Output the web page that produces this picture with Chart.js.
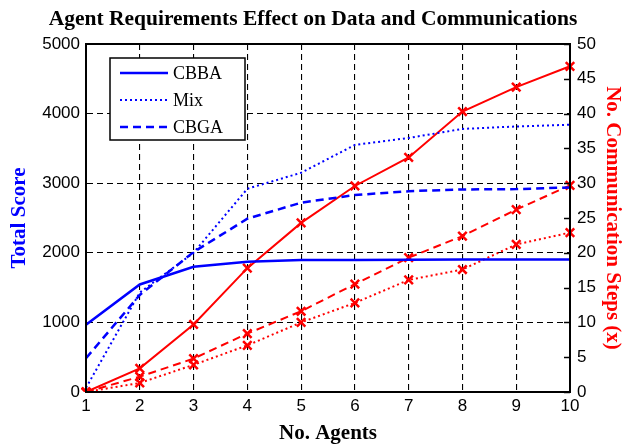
<!DOCTYPE html>
<html>
<head>
<meta charset="utf-8">
<script src="https://cdn.jsdelivr.net/npm/chart.js@4.4.0/dist/chart.umd.min.js"></script>
<style>
  html, body { margin: 0; padding: 0; background: #fff; }
  #wrap { width: 626px; height: 446px; }
</style>
</head>
<body>
<div id="wrap"><canvas id="chart" width="626" height="446"></canvas></div>
<script>
// data
const agents = ['1', '2', '3', '4', '5', '6', '7', '8', '9', '10'];
const scoreCBBA = [965, 1545, 1800, 1870, 1895, 1898, 1900, 1905, 1905, 1905];
const scoreMix  = [60, 1430, 2000, 2920, 3150, 3550, 3650, 3780, 3815, 3840];
const scoreCBGA = [485, 1395, 2010, 2490, 2720, 2830, 2885, 2910, 2915, 2940];
const commCBBA  = [0, 3.4, 9.7, 17.8, 24.3, 29.6, 33.7, 40.3, 43.8, 46.8];
const commMix   = [0, 1.3, 3.9, 6.7, 10.0, 12.8, 16.1, 17.6, 21.2, 22.9];
const commCBGA  = [0, 2.2, 4.8, 8.4, 11.6, 15.5, 19.3, 22.4, 26.2, 29.7];
const scoreTicks = [0, 1000, 2000, 3000, 4000, 5000];
const commTicks  = [0, 5, 10, 15, 20, 25, 30, 35, 40, 45, 50];

const BLUE = '#0000ff';
const RED = '#ff0000';
const SERIF = '"Liberation Serif", "Times New Roman", serif';
const SANS = '"Liberation Sans", Arial, sans-serif';

const styles = {
    CBBA: [],
    Mix: [2, 3],
    CBGA: [8, 5]
};

function blueSet(label, data) {
    return {
        label: label,
        data: data,
        yAxisID: 'y',
        borderColor: BLUE,
        backgroundColor: BLUE,
        borderWidth: label === 'Mix' ? 2 : 2.5,
        borderDash: styles[label],
        pointRadius: 0,
        tension: 0,
        inLegend: true
    };
}
function redSet(label, data) {
    return {
        label: label + ' steps',
        data: data,
        yAxisID: 'y1',
        borderColor: RED,
        backgroundColor: RED,
        borderWidth: 2,
        borderDash: styles[label],
        pointStyle: 'crossRot',
        pointRadius: 6,
        pointBorderWidth: 2.5,
        pointBorderColor: RED,
        tension: 0,
        inLegend: false
    };
}

// legend box drawn inside the plot, like the matlab one
const boxLegend = {
    id: 'boxLegend',
    afterDraw(chart) {
        const c = chart.ctx;
        const a = chart.chartArea;
        const x0 = a.left + 24, y0 = a.top + 14;
        const items = chart.data.datasets.filter(d => d.inLegend);
        c.save();
        c.fillStyle = '#fff';
        c.fillRect(x0, y0, 135, 82);
        c.strokeStyle = '#000';
        c.lineWidth = 1.5;
        c.setLineDash([]);
        c.strokeRect(x0, y0, 135, 82);
        c.font = '18px ' + SERIF;
        c.textBaseline = 'middle';
        items.forEach((d, i) => {
            const y = y0 + 15 + i * 27;
            c.strokeStyle = d.borderColor;
            c.lineWidth = d.borderWidth;
            c.setLineDash(d.borderDash);
            c.beginPath();
            c.moveTo(x0 + 10, y);
            c.lineTo(x0 + 58, y);
            c.stroke();
            c.fillStyle = '#000';
            c.fillText(d.label, x0 + 63, y + 1);
        });
        c.restore();
    }
};

// inward tick marks on the right axis and a solid frame
const frame = {
    id: 'frame',
    afterDatasetsDraw(chart) {
        const c = chart.ctx;
        const a = chart.chartArea;
        const s = chart.scales.y1;
        c.save();
        c.strokeStyle = '#000';
        c.lineWidth = 1.5;
        c.setLineDash([]);
        commTicks.forEach(v => {
            const y = Math.round(s.getPixelForValue(v)) + 0.5;
            c.beginPath();
            c.moveTo(a.right - 6, y);
            c.lineTo(a.right, y);
            c.stroke();
        });
        c.lineWidth = 2;
        c.strokeRect(a.left, a.top, a.right - a.left, a.bottom - a.top);
        c.restore();
    }
};

const plain = v => String(v);

const ctx = document.querySelector('#chart');
new Chart(ctx, {
    type: 'line',
    data: {
        labels: agents,
        datasets: [
            blueSet('CBBA', scoreCBBA),
            blueSet('Mix', scoreMix),
            blueSet('CBGA', scoreCBGA),
            redSet('CBBA', commCBBA),
            redSet('Mix', commMix),
            redSet('CBGA', commCBGA)
        ]
    },
    options: {
        responsive: false,
        animation: false,
        layout: { padding: 0 },
        plugins: {
            legend: { display: false },
            tooltip: { enabled: false },
            title: {
                display: true,
                text: 'Agent Requirements Effect on Data and Communications',
                color: '#000',
                font: { family: SERIF, size: 21.5, weight: 'bold' },
                padding: { top: 7, bottom: 11.2 }
            }
        },
        scales: {
            x: {
                type: 'category',
                offset: false,
                afterFit: s => { s.height = 54; },
                grid: {
                    offset: false,
                    color: '#000',
                    lineWidth: 1.1,
                    drawTicks: false
                },
                border: { display: true, color: '#000', width: 2, dash: [6, 4] },
                ticks: {
                    color: '#000',
                    font: { family: SANS, size: 17 },
                    padding: 4,
                    maxRotation: 0
                },
                title: {
                    display: true,
                    text: 'No. Agents',
                    color: '#000',
                    font: { family: SERIF, size: 21, weight: 'bold' },
                    padding: { top: 0, bottom: 0 }
                }
            },
            y: {
                position: 'left',
                min: 0,
                max: 5000,
                afterFit: s => { s.width = 86; },
                afterBuildTicks: s => { s.ticks = scoreTicks.map(v => ({ value: v })); },
                grid: {
                    color: '#000',
                    lineWidth: 1.1,
                    drawTicks: false
                },
                border: { display: true, color: '#000', width: 2, dash: [6, 4] },
                ticks: {
                    color: '#000',
                    font: { family: SANS, size: 17 },
                    padding: 6,
                    callback: plain
                },
                title: {
                    display: true,
                    text: 'Total Score',
                    color: BLUE,
                    font: { family: SERIF, size: 21, weight: 'bold' },
                    padding: { top: 7, bottom: 0 }
                }
            },
            y1: {
                position: 'right',
                min: 0,
                max: 50,
                afterFit: s => { s.width = 56; },
                afterBuildTicks: s => { s.ticks = commTicks.map(v => ({ value: v })); },
                grid: { drawOnChartArea: false, drawTicks: false },
                border: { display: true, color: '#000', width: 2 },
                ticks: {
                    color: '#000',
                    font: { family: SANS, size: 17 },
                    padding: 7,
                    callback: plain
                },
                title: {
                    display: true,
                    text: 'No. Communication Steps (x)',
                    color: RED,
                    font: { family: SERIF, size: 21, weight: 'bold' },
                    padding: { top: 1, bottom: 0 }
                }
            }
        }
    },
    plugins: [frame, boxLegend]
});
</script>
</body>
</html>
